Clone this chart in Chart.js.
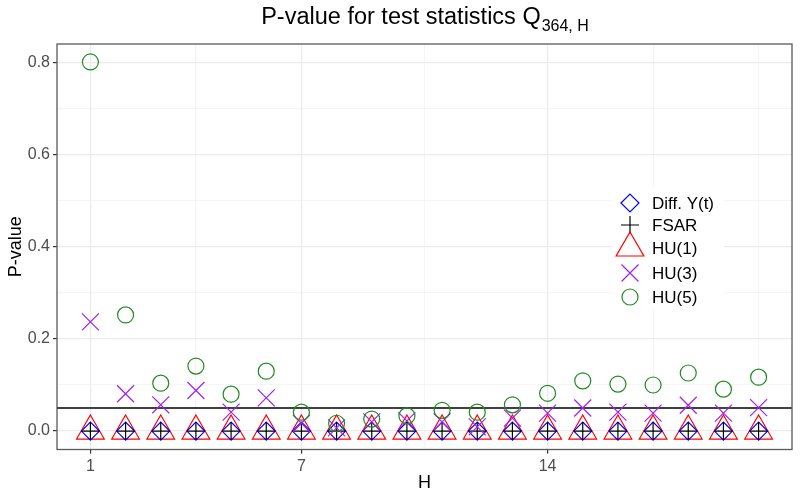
<!DOCTYPE html>
<html>
<head>
<meta charset="utf-8">
<script src="https://cdn.jsdelivr.net/npm/chart.js"></script>
<style>
  body { margin: 0; padding: 0; background: #ffffff; }
  #chartContainer { width: 800px; height: 500px; }
</style>
</head>
<body>
<div id="chartContainer">
  <canvas id="pvalChart" width="800" height="500"></canvas>
</div>
<script>
// lag H and p-values
const lags   = [1, 2, 3, 4, 5, 6, 7, 8, 9, 10, 11, 12, 13, 14, 15, 16, 17, 18, 19, 20];
const diffY  = [0, 0, 0, 0, 0, 0, 0, 0, 0, 0, 0, 0, 0, 0, 0, 0, 0, 0, 0, 0];
const fsar   = [0, 0, 0, 0, 0, 0, 0, 0, 0, 0, 0, 0, 0, 0, 0, 0, 0, 0, 0, 0];
const hu1    = [0, 0, 0, 0, 0, 0, 0, 0, 0, 0, 0, 0, 0, 0, 0, 0, 0, 0, 0, 0];
const hu3    = [0.237, 0.081, 0.057, 0.088, 0.041, 0.072, 0.017, 0.007, 0.020, 0.022,
                0.020, 0.009, 0.028, 0.039, 0.050, 0.041, 0.039, 0.056, 0.039, 0.051];
const hu5    = [0.801, 0.252, 0.104, 0.141, 0.080, 0.130, 0.041, 0.017, 0.026, 0.033,
                0.045, 0.041, 0.057, 0.082, 0.109, 0.102, 0.100, 0.126, 0.091, 0.117];
const seriesNames = ['Diff. Y(t)', 'FSAR', 'HU(1)', 'HU(3)', 'HU(5)'];

const xMajor = [1, 7, 14];
const xMinor = [4, 10.5, 17, 20];
const yMajor = [0, 0.2, 0.4, 0.6, 0.8];
const yMinor = [0.1, 0.3, 0.5, 0.7];
const alphaLevel = 0.05;

const fontFamily = '"Liberation Sans", Arial, Helvetica, sans-serif';

const toPoints = vals => lags.map((h, i) => ({ x: h, y: vals[i] }));

const styles = [
    { pointStyle: 'rectRot',  radius: 9,  color: '#0000ff', order: 4 },
    { pointStyle: 'cross',    radius: 9,  color: '#000000', order: 3 },
    { pointStyle: 'triangle', radius: 16, color: '#ff0000', order: 5 },
    { pointStyle: 'crossRot', radius: 12, color: '#a020f0', order: 2 },
    { pointStyle: 'circle',   radius: 8,  color: '#228b22', order: 1 }
];
const allSeries = [diffY, fsar, hu1, hu3, hu5];

const datasets = allSeries.map((vals, i) => ({
    label: seriesNames[i],
    data: toPoints(vals),
    showLine: false,
    order: styles[i].order,
    pointStyle: styles[i].pointStyle,
    pointRadius: styles[i].radius,
    pointHoverRadius: styles[i].radius,
    pointBorderColor: styles[i].color,
    pointBackgroundColor: 'rgba(0,0,0,0)',
    pointBorderWidth: 1.2,
    pointHoverBorderWidth: 1.2
}));

// title with subscript
const titlePlugin = {
    id: 'subTitle',
    afterDraw(chart) {
        const ctx = chart.ctx;
        const main = 'P-value for test statistics Q';
        const sub = '364, H';
        ctx.save();
        ctx.fillStyle = '#000';
        ctx.textBaseline = 'alphabetic';
        ctx.font = '23.5px ' + fontFamily;
        const w1 = ctx.measureText(main).width;
        ctx.font = '16px ' + fontFamily;
        const w2 = ctx.measureText(sub).width;
        const cx = (chart.chartArea.left + chart.chartArea.right) / 2;
        const x0 = cx - (w1 + w2) / 2;
        ctx.textAlign = 'left';
        ctx.font = '23.5px ' + fontFamily;
        ctx.fillText(main, x0, 24);
        ctx.font = '16px ' + fontFamily;
        ctx.fillText(sub, x0 + w1 + 1, 31);
        ctx.restore();
    }
};

// reference line at 0.05 and the panel border
const panelPlugin = {
    id: 'panel',
    beforeDatasetsDraw(chart) {
        const { ctx, chartArea, scales } = chart;
        const y = scales.y.getPixelForValue(alphaLevel);
        ctx.save();
        ctx.strokeStyle = '#000';
        ctx.lineWidth = 1.6;
        ctx.beginPath();
        ctx.moveTo(chartArea.left, y);
        ctx.lineTo(chartArea.right, y);
        ctx.stroke();
        ctx.restore();
    },
    afterDraw(chart) {
        const { ctx, chartArea } = chart;
        ctx.save();
        ctx.strokeStyle = '#5a5a5a';
        ctx.lineWidth = 1.3;
        ctx.strokeRect(chartArea.left, chartArea.top,
            chartArea.right - chartArea.left, chartArea.bottom - chartArea.top);
        ctx.restore();
    }
};

// legend inside the panel
const legendPlugin = {
    id: 'insideLegend',
    afterDatasetsDraw(chart) {
        const ctx = chart.ctx;
        const boxX = 612, boxY = 187, boxW = 112, boxH = 122;
        const keyX = 630, textX = 652;
        const rowY = [203, 225, 248, 273, 297];
        ctx.save();
        ctx.fillStyle = '#ffffff';
        ctx.fillRect(boxX, boxY, boxW, boxH);
        styles.forEach((s, i) => {
            ctx.strokeStyle = s.color;
            ctx.fillStyle = 'rgba(0,0,0,0)';
            ctx.lineWidth = 1.2;
            Chart.helpers.drawPoint(ctx, {
                pointStyle: s.pointStyle, radius: s.radius, rotation: 0, borderWidth: 1.2
            }, keyX, rowY[i]);
            ctx.fillStyle = '#000';
            ctx.font = '17px ' + fontFamily;
            ctx.textAlign = 'left';
            ctx.textBaseline = 'middle';
            ctx.fillText(seriesNames[i], textX, rowY[i] + 1);
        });
        ctx.restore();
    }
};

const gridColor = (major) => major ? '#ebebeb' : '#f3f3f3';

new Chart(document.getElementById('pvalChart').getContext('2d'), {
    type: 'scatter',
    data: { datasets: datasets },
    plugins: [titlePlugin, panelPlugin, legendPlugin],
    options: {
        responsive: false,
        animation: false,
        events: [],
        layout: { autoPadding: false, padding: { top: 44, right: 8, left: 0, bottom: 0 } },
        plugins: {
            legend: { display: false },
            title: { display: false },
            tooltip: { enabled: false }
        },
        scales: {
            x: {
                type: 'linear',
                min: 0.05,
                max: 20.95,
                afterBuildTicks: s => {
                    s.ticks = xMajor.concat(xMinor).sort((a, b) => a - b).map(v => ({ value: v }));
                },
                afterFit: s => { s.height = 50.5; s.paddingLeft = 0; s.paddingRight = 0; },
                ticks: {
                    autoSkip: false,
                    maxRotation: 0,
                    padding: 3,
                    color: '#4d4d4d',
                    font: { family: fontFamily, size: 16 },
                    callback: v => xMajor.includes(v) ? String(v) : ''
                },
                grid: {
                    color: c => gridColor(xMajor.includes(c.tick.value)),
                    lineWidth: c => xMajor.includes(c.tick.value) ? 1.2 : 0.8,
                    tickColor: c => xMajor.includes(c.tick.value) ? '#333333' : 'rgba(0,0,0,0)',
                    tickLength: 4
                },
                border: { display: false },
                title: {
                    display: true,
                    text: 'H',
                    color: '#000',
                    font: { family: fontFamily, size: 18 },
                    padding: { top: 0, bottom: 6 }
                }
            },
            y: {
                type: 'linear',
                min: -0.04,
                max: 0.84,
                afterBuildTicks: s => {
                    s.ticks = yMajor.concat(yMinor).sort((a, b) => a - b).map(v => ({ value: v }));
                },
                afterFit: s => { s.width = 57; s.paddingTop = 0; s.paddingBottom = 0; },
                ticks: {
                    autoSkip: false,
                    padding: 3,
                    color: '#4d4d4d',
                    font: { family: fontFamily, size: 16 },
                    callback: v => yMajor.includes(v) ? v.toFixed(1) : ''
                },
                grid: {
                    color: c => gridColor(yMajor.includes(c.tick.value)),
                    lineWidth: c => yMajor.includes(c.tick.value) ? 1.2 : 0.8,
                    tickColor: c => yMajor.includes(c.tick.value) ? '#333333' : 'rgba(0,0,0,0)',
                    tickLength: 4
                },
                border: { display: false },
                title: {
                    display: true,
                    text: 'P-value',
                    color: '#000',
                    font: { family: fontFamily, size: 18 },
                    padding: { top: 5, bottom: 0 }
                }
            }
        }
    }
});
</script>
</body>
</html>
